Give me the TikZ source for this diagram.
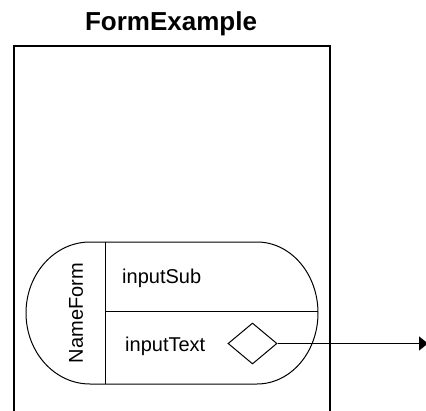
\documentclass[tikz,border=0pt]{standalone}
\usepackage{fontspec}
\setmainfont{Liberation Sans}
\usetikzlibrary{shapes.geometric,arrows.meta}
\begin{document}
\begin{tikzpicture}[x=1pt,y=1pt,
  lbl/.style={inner sep=0pt,font=\fontsize{20}{22}\selectfont},
  outline/.style={draw=black,line width=1pt},
  framebox/.style={draw=black,line width=1.6pt},
  dia/.style={draw=black,line width=1pt,shape=diamond,minimum width=49pt,minimum height=41pt,inner sep=0pt},
  conn/.style={draw=black,line width=1.3pt,-{Triangle[length=9pt,width=14pt]}}]
\useasboundingbox (0,0) rectangle (426,-410);
% outer frame
\draw[framebox] (14,-420) -- (14,-46) -- (330,-46) -- (330,-420);
\node[anchor=base,inner sep=0pt,font=\fontsize{26}{28}\selectfont\bfseries] (title) at (171,-30) {FormExample};
% stadium
\draw[outline] (90,-242) -- (257,-242) arc[start angle=90,end angle=-90,x radius=61,y radius=71] -- (90,-384) arc[start angle=270,end angle=90,x radius=64,y radius=71] -- cycle;
\coordinate (divtop) at (105,-242);
\coordinate (divbot) at (105,-384);
\coordinate (midl) at (105,-311);
\coordinate (midr) at (317.5,-311);
\draw[outline] (divtop) -- (divbot);
\draw[outline] (midl) -- (midr);
\node[lbl,rotate=90] (nf) at (76,-313) {NameForm};
\node[lbl,anchor=base west] (sub) at (122,-283) {inputSub};
\node[lbl,anchor=base west] (txt) at (125,-351) {inputText};
\node[dia] (d) at (252.5,-343.5) {};
\coordinate (out) at (428,-343.5);
\draw[conn] (d.east) -- (out);
\end{tikzpicture}
\end{document}
